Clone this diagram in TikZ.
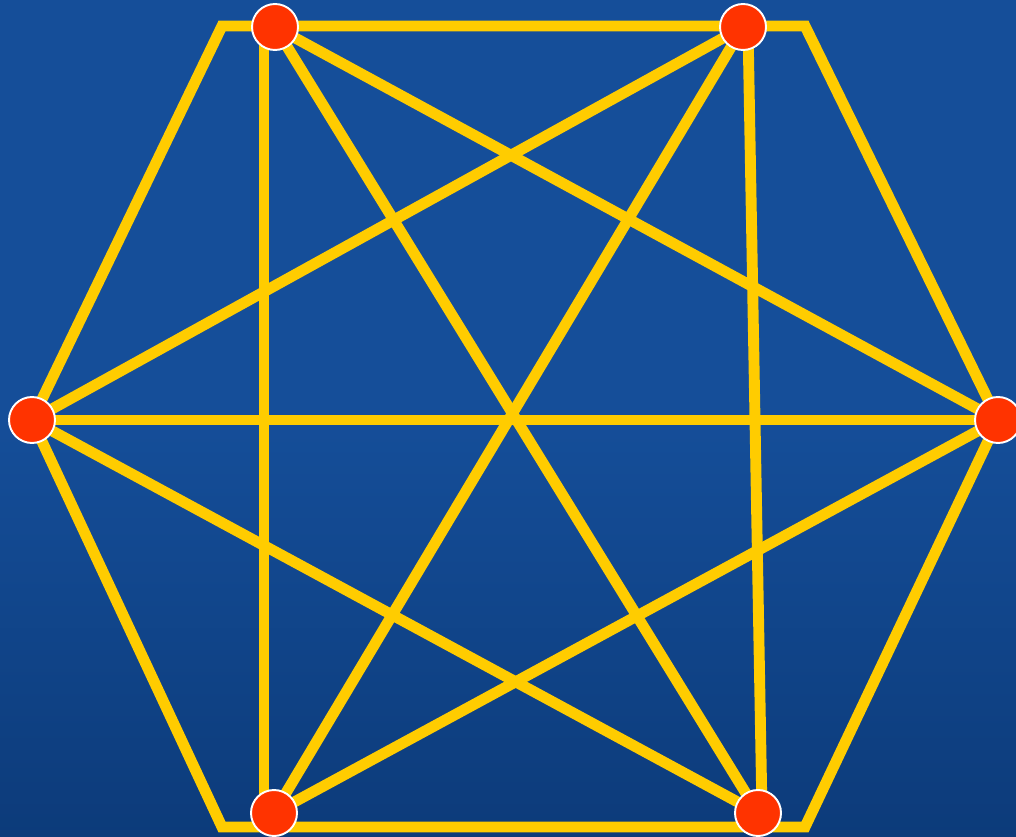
\documentclass[tikz,border=0pt]{standalone}
\usepackage{tikz}
\usepackage{xcolor}
\usetikzlibrary{calc, backgrounds}
\definecolor{cBg}{HTML}{154E99}
\definecolor{cBgB}{HTML}{0C3B7A}
\definecolor{cLink}{HTML}{FFCC00}
\definecolor{cNode}{HTML}{FF3300}
\tikzset{
  vertex/.style  ={circle, fill=cNode, draw=white, line width=1.1pt,
                   minimum size=0.92cm, inner sep=0pt},
  link/.style    ={draw=cLink, line width=6.2pt, line join=miter},
}

\begin{document}
\begin{tikzpicture}[x=0.02cm, y=-0.02cm]

  % ============================================================
  % CANVAS
  % ============================================================
  \useasboundingbox (0,0) rectangle (1016,837);

  % ============================================================
  % VERTICES (six, around the hexagon)
  % ============================================================
  \node[vertex] (tl) at (275,27)  {};
  \node[vertex] (tr) at (743,27)  {};
  \node[vertex] (l)  at (32,420)  {};
  \node[vertex] (r)  at (998,420) {};
  \node[vertex] (bl) at (274,813) {};
  \node[vertex] (br) at (758,813) {};

  % outer frame corners
  \coordinate (ctl) at (222,26);
  \coordinate (ctr) at (805,26);
  \coordinate (cbl) at (222,827);
  \coordinate (cbr) at (805,827);

  \begin{pgfonlayer}{background}
    \shade[top color=cBg, bottom color=cBgB, middle color=cBg]
      (0,0) rectangle (1016,837);

    % ============================================================
    % LINKS
    % ============================================================
    % outer frame
    \draw[link] (l.center) -- (ctl) -- (ctr) -- (r.center)
                -- (cbr) -- (cbl) -- cycle;

    % horizontal and verticals
    \draw[link] (l.center) -- (r.center);
    \draw[link] ($(tl)+(-11,0)$) -- ($(bl)+(-10,0)$);
    \draw[link] ($(tr)+(5,0)$)   -- ($(br)+(4,0)$);

    % long diagonals
    \draw[link] (tl.center) -- (br.center);
    \draw[link] (tr.center) -- (bl.center);

    % star links
    \draw[link] (tl.center) -- (r.center);
    \draw[link] (tr.center) -- (l.center);
    \draw[link] (l.center)  -- (br.center);
    \draw[link] (r.center)  -- (bl.center);
  \end{pgfonlayer}

\end{tikzpicture}
\end{document}
